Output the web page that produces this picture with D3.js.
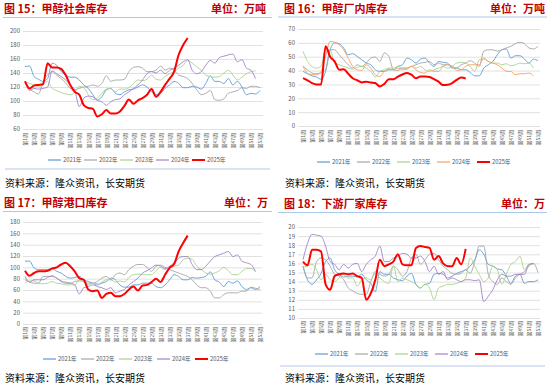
<!DOCTYPE html>
<html><head><meta charset="utf-8">
<script src="https://cdn.jsdelivr.net/npm/d3@7"></script>
<style>
body{margin:0;background:#fff;}
svg{display:block;}
text{font-family:"Noto Sans CJK SC","Noto Sans",sans-serif;}
</style></head><body>
<svg id="c" width="550" height="389"></svg>
<script>
// ---------- data ----------
const years = ["2021年","2022年","2023年","2024年","2025年"];
const weekLabels = ["第1周","第3周","第5周","第7周","第9周","第11周","第13周","第15周","第17周","第19周","第21周","第23周","第25周","第27周","第29周","第31周","第33周","第35周","第37周","第39周","第41周","第43周","第45周","第47周","第49周","第51周","第53周"];

// 图15 社会库存
const p1Ticks = [60,80,100,120,140,160,180,200];
const s1_2021 = [149,150,135,131,128,132,154,151,142,137,134,134,130,123,118,109,101,106,116,118,111,109,113,116,117,120,123,120,113,109,111,118,123,128,125,119,119,121,120,117,125,136,128,128,125,132,123,128,120,109,111,110,115];
const s1_2022 = [128,118,113,110,128,137,142,137,132,126,118,116,118,120,121,123,121,125,136,128,130,130,131,142,148,149,147,142,142,144,150,144,147,144,137,135,132,125,116,109,111,115,102,101,103,111,113,115,119,118,121,121,119];
const s1_2023 = [128,125,123,121,123,128,118,115,112,110,109,112,121,119,109,102,104,111,117,118,113,117,117,119,125,130,129,131,137,131,130,135,139,142,147,151,158,154,149,144,137,135,134,135,140,144,137,130,134,139,142,143];
const s1_2024 = [128,115,118,117,118,120,143,139,135,130,123,116,92,104,107,106,101,99,94,99,102,103,109,113,118,123,130,139,142,140,144,139,144,147,151,156,159,144,139,142,151,158,154,162,164,166,167,156,159,147,144,132];
const s1_2025 = [128,118,122,123,124,154,148,148,146,137,123,113,109,94,90,89,78,81,87,82,82,85,93,102,96,101,104,109,117,106,113,123,132,142,166,180,190];

// 图16 厂内库存
const p2Ticks = [0,10,20,30,40,50,60,70];
const s2_2021 = [39.4,37.7,36.2,35.3,33.8,39.4,55,60,59.4,56.3,51.4,52.2,50.2,47.8,45.4,44.2,40.6,39.4,39.4,40.6,40.6,43,44.2,49,47.8,45.4,48.3,49,45.4,43,46.6,45.9,45.4,41.8,41.8,40.6,40.6,38.6,36.2,36.2,41.8,44.2,46.6,51.4,55,55.6,49,50.7,50.7,48.3,45.4,48.3,47.1];
const s2_2022 = [43,40.6,38.2,37.7,38.2,40.6,55,55,51.4,47.8,44.2,41.8,44.2,43,45.4,49,49.8,46.6,52.7,50.2,40.6,40.1,41.8,41.8,43,44.2,45.4,45.9,46.6,44.2,45.4,44.2,44.2,43,41.8,44.2,45.4,47.1,45.4,43,54,55,55,54,55,56.3,57.5,59.4,60.4,59.4,56.3,55.6,57.5];
const s2_2023 = [53.9,46.6,43,41.8,43,55,55,45.4,44.2,43,41.8,41,42.3,43,41.8,39.4,35.3,39.4,40.6,41.8,41.8,43,41.8,41.8,43,41.8,43,40.6,39.4,40.6,41.8,43,41.8,43,45.4,45.9,45.4,43,39.4,47.8,48.3,46.6,45.4,45.4,44.2,44.9,43.5,44.2,45.4,44.9,45.4,41.8];
const s2_2024 = [43,38.2,37,37,39.4,50.2,61.1,60.4,58.7,55,49,43,40.6,40.1,44.2,41.8,37,35.7,39.4,41,40.6,41.8,40.6,41,43,40.6,38.6,38.2,40.6,39.4,39.4,43,44.2,43,40.1,40.6,43,44.2,44.2,44.2,49,46.6,45.4,44.2,41.8,39.4,39.4,37,37.7,37.7,38.2,36.2];
const s2_2025 = [34.5,33,31,30,30,57.5,50,46.6,40.6,41,37.7,34.5,33,31.4,32,31.4,31,28.5,30.4,33.8,33.8,35.7,37.2,38.2,37,34.5,35.7,35.7,35.3,33.8,32,29.5,29.7,31,33.3,35,34.3];

// 图17 港口库存
const p3Ticks = [0,20,40,60,80,100,120,140,160,180];
const s3_2021 = [111,111,99,96,96,96,98,93,90,84,81,82,84,78,75,72,69,72,75,81,78,69,65,65,69,69,72,72,72,66,64,69,78,87,84,78,78,82,81,82,84,92,78,74,66,75,72,76,66,61,64,61,66];
const s3_2022 = [78,74,72,72,84,84,84,81,76,74,72,75,76,75,72,72,75,81,84,78,87,90,87,96,102,105,105,100,93,102,104,100,96,93,90,87,84,78,69,64,64,58,46,46,52,55,55,55,58,58,65,63,61];
const s3_2023 = [72,76,76,72,71,72,75,72,71,69,69,69,78,74,69,72,71,74,78,78,74,76,74,82,87,88,87,87,87,94,100,96,100,102,104,114,116,114,102,96,90,88,90,94,100,94,87,87,93,98,98,92];
const s3_2024 = [84,74,78,78,78,82,85,81,75,72,72,69,53,64,66,69,66,64,61,64,55,58,61,69,75,81,90,94,99,104,102,98,102,108,116,119,119,105,96,96,102,111,119,122,125,128,119,122,111,108,105,93];
const s3_2025 = [94,85,90,93,93,94,98,100,105,108,102,93,81,78,61,58,59,46,53,55,49,49,53,61,66,59,68,69,74,80,74,87,99,106,128,143,156];

// 图18 下游厂家库存
const p4Ticks = [10,11,12,13,14,15,16,17,18,19,20];
const s4_2021 = [15.7,14.2,13.7,14.2,14.9,16.2,16.6,15.3,14.8,14.5,14.6,14.6,14.5,14.8,14.2,13.8,12.9,15.1,14.8,14.8,14.4,14.2,14.1,14.6,14.9,13.7,13.3,13.7,13.8,14.8,14.9,14.8,14.4,14.6,14.9,15.1,15.3,15.7,16.4,17.5,17,15.9,15.7,15.4,15.3,14.6,13.8,14.6,14.8,13.8,14,14,14.2];
const s4_2022 = [15.7,14.4,14.4,16.2,16.6,16.4,15.7,14.8,14.6,14.2,13.3,13,12.7,12.6,12.6,14,15.1,14.8,14.6,14.8,15.7,15.3,14.6,15.1,16.6,17,15.9,16.4,17,17.1,16.4,15.7,15.3,14.9,14.8,14.9,15.3,14.9,16.2,17.9,17.9,14.8,14,13.7,14.4,14,13.7,14.4,14.8,15.1,15.7,16,15];
const s4_2023 = [15.6,15.7,15.9,15.3,14.2,14.8,14.2,14,14.4,14.8,14.4,14.4,13.5,14.2,14.4,14.2,14.9,14.4,14,13.8,15.7,14,14.4,14.2,14,13.7,13.3,13.7,13.3,12,13.3,13.5,13.7,13.7,13.8,14,14.4,16.6,15.7,14.8,14,14.4,15.7,15.3,13.7,14.8,15.9,16.2,16.8,15.3,15.9,15.9];
const s4_2024 = [16.4,18.2,19.2,19.1,19,17.9,16.2,15.9,15.3,15.9,15.5,15.9,16,15.1,15.9,16.4,16.8,17.9,16.2,16.2,16.6,16.8,17.1,17,16.6,16.6,16.8,16.2,15.1,15.7,14.8,15.1,14.2,14.4,14.2,14,14.2,14.2,14.1,14.2,11.8,12.4,13.1,14.2,14.8,14.6,14.6,14.8,14.8,14.8,15.9,16];
const s4_2025 = [16.2,15.8,17.5,17.5,17.3,13.7,13.1,14.6,14.8,14.9,14.8,14.9,14.6,14.4,12,12.7,14.2,16.4,15.7,15.9,16.2,17,15.9,15.8,15.8,17.7,17.9,17.8,17.7,16.4,16.8,16,15.7,15.7,16.6,15.9,17.6];

const colorsPurple = ["#5b9bd5","#a5a5a5","#a9d18e","#a082c8","#ff0000"];
const colorsOrange = ["#5b9bd5","#a5a5a5","#a9d18e","#f4a25f","#ff0000"];

// ---------- drawing ----------
const svg = d3.select("#c");

function panel(o){
  const g = svg.append("g").attr("transform",`translate(${o.ox},${o.oy})`);
  g.append("text").attr("x",o.tx).attr("y",o.ty).attr("fill","#c00000")
    .attr("font-size",11).attr("font-weight","bold").text(o.title);
  g.append("text").attr("x",o.ux).attr("y",o.ty).attr("fill","#c00000")
    .attr("font-size",11).attr("font-weight","bold").attr("text-anchor","end").text(o.unit);
  g.append("line").attr("x1",3).attr("x2",272).attr("y1",o.ty+4.5).attr("y2",o.ty+4.5)
    .attr("stroke","#a9c9e8").attr("stroke-width",1);

  const x = d3.scaleLinear().domain([1,53]).range([o.x0,o.x1]);
  const y = d3.scaleLinear().domain(o.domain).range([o.yb,o.yt]);

  const ya = g.append("g").attr("transform",`translate(${o.gx0},0)`)
    .call(d3.axisLeft(y).tickValues(o.ticks).tickSize(-(o.gx1-o.gx0)).tickPadding(3).tickFormat(d3.format("d")));
  ya.select(".domain").remove();
  ya.selectAll("line").attr("stroke","#d9d9d9").attr("stroke-width",0.8);
  ya.selectAll("text").attr("fill","#595959").attr("font-size",6)
    .attr("font-family","Liberation Sans, Arial, sans-serif");

  const xa = g.append("g").attr("transform",`translate(0,${o.xl})`)
    .call(d3.axisBottom(x).tickValues(d3.range(1,54,2)).tickSize(0)
      .tickFormat((d,i)=>weekLabels[i]));
  xa.select(".domain").remove();
  xa.selectAll("text").attr("fill","#595959").attr("font-size",5)
    .attr("transform","rotate(-90)").attr("text-anchor","end")
    .attr("dx",0).attr("dy","0.35em").attr("x",0).attr("y",0);

  const line = d3.line().x((d,i)=>x(i+1)).y(d=>y(d)).curve(d3.curveMonotoneX);
  o.series.forEach((s,k)=>{
    g.append("path").datum(s).attr("d",line).attr("fill","none")
      .attr("stroke",o.colors[k]).attr("stroke-width",k===4?2:0.9)
      .attr("stroke-linejoin","round");
  });

  years.forEach((yr,k)=>{
    const lx = o.lx + k*o.ls;
    g.append("line").attr("x1",lx).attr("x2",lx+13).attr("y1",o.ly).attr("y2",o.ly)
      .attr("stroke",o.colors[k]).attr("stroke-width",k===4?2:1.2);
    g.append("text").attr("x",lx+15).attr("y",o.ly+2).attr("fill","#595959")
      .attr("font-size",5.8).text(yr);
  });

  g.append("text").attr("x",o.tx+1).attr("y",o.sy).attr("fill","#000")
    .attr("font-size",10).text("资料来源：隆众资讯，长安期货");
  if(o.bottomLine){
    g.append("line").attr("x1",5).attr("x2",270).attr("y1",o.bl).attr("y2",o.bl)
      .attr("stroke","#b4c7e7").attr("stroke-width",1);
  }
}

panel({ox:0,oy:0,title:"图 15：甲醇社会库存",unit:"单位：万吨",tx:4,ty:13,ux:266,
  domain:[60,200],ticks:p1Ticks,yt:31,yb:129,x0:25,x1:260,gx0:23,gx1:263,xl:133,
  series:[s1_2021,s1_2022,s1_2023,s1_2024,s1_2025],colors:colorsPurple,
  lx:48,ls:36,ly:160,sy:187,bottomLine:true,bl:169});

panel({ox:275,oy:0,title:"图 16：甲醇厂内库存",unit:"单位：万吨",tx:9,ty:12.5,ux:270,
  domain:[0,70],ticks:p2Ticks,yt:29,yb:126,x0:28,x1:263,gx0:23,gx1:265,xl:130,
  series:[s2_2021,s2_2022,s2_2023,s2_2024,s2_2025],colors:colorsOrange,
  lx:42,ls:40,ly:162,sy:187,bottomLine:false});

panel({ox:0,oy:195,title:"图 17：甲醇港口库存",unit:"单位：万",tx:4,ty:12,ux:268,
  domain:[0,180],ticks:p3Ticks,yt:27,yb:129,x0:25,x1:260,gx0:23,gx1:262,xl:132,
  series:[s3_2021,s3_2022,s3_2023,s3_2024,s3_2025],colors:colorsPurple,
  lx:43,ls:38,ly:164,sy:187,bottomLine:false});

panel({ox:275,oy:195,title:"图 18：下游厂家库存",unit:"单位：万",tx:9,ty:13,ux:270,
  domain:[10,20],ticks:p4Ticks,yt:32,yb:123,x0:28,x1:263,gx0:23,gx1:265,xl:126,
  series:[s4_2021,s4_2022,s4_2023,s4_2024,s4_2025],colors:colorsPurple,
  lx:40,ls:40,ly:159,sy:187,bottomLine:true,bl:171});
</script>
</body></html>
